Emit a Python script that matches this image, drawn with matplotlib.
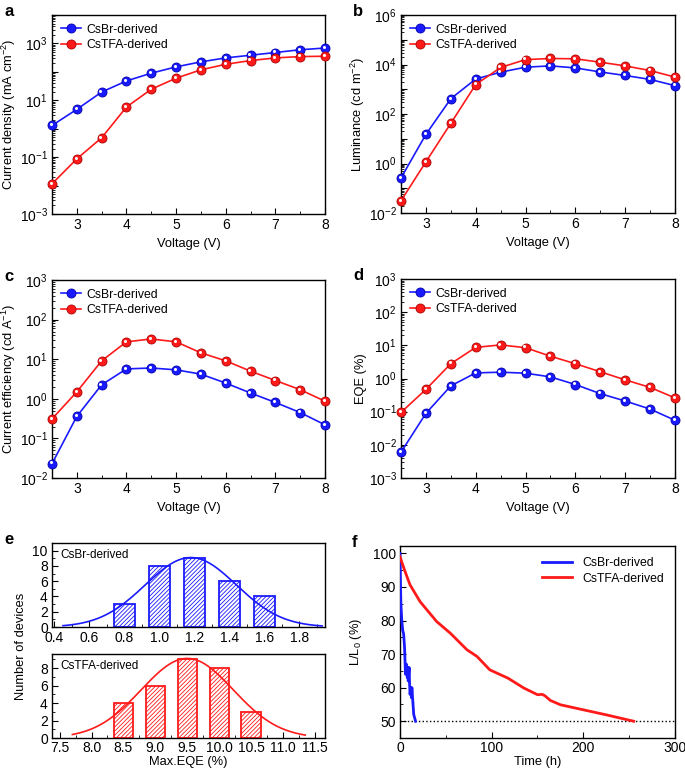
import numpy as np
import matplotlib
matplotlib.use("Agg")
import matplotlib.pyplot as plt
import matplotlib.ticker as mticker
from matplotlib.transforms import offset_copy

plt.rcParams['font.family'] = ['Liberation Sans', 'DejaVu Sans']
plt.rcParams['font.size'] = 10
plt.rcParams['axes.labelsize'] = 9.3
plt.rcParams['mathtext.fontset'] = 'custom'
plt.rcParams['mathtext.rm'] = 'Liberation Sans'
plt.rcParams['mathtext.it'] = 'Liberation Sans:italic'
plt.rcParams['hatch.linewidth'] = 0.6
plt.rcParams['axes.linewidth'] = 1.0

BLUE = '#1a1aff'
RED = '#ff1a1a'

# ---- data ----
voltage = [2.5, 3.0, 3.5, 4.0, 4.5, 5.0, 5.5, 6.0, 6.5, 7.0, 7.5, 8.0]

# a: current density (mA cm-2)
j_csbr = [1.3, 4.8, 19.5, 48, 90, 150, 225, 310, 385, 480, 600, 690]
j_cstfa = [0.0115, 0.087, 0.48, 5.8, 24.5, 60, 118, 185, 250, 310, 345, 355]

# b: luminance (cd m-2)
lum_csbr = [0.26, 15, 415, 2600, 4900, 7800, 8800, 7300, 5000, 3600, 2500, 1400]
lum_cstfa = [0.031, 1.17, 42, 1550, 7600, 15800, 17500, 17000, 12400, 8800, 5700, 3100]

# c: current efficiency (cd A-1)
ce_csbr = [0.023, 0.36, 2.26, 5.7, 6.0, 5.4, 4.2, 2.5, 1.4, 0.81, 0.45, 0.22]
ce_cstfa = [0.31, 1.5, 9.1, 27.5, 32.5, 27.5, 14.5, 9.1, 5.0, 2.9, 1.7, 0.87]

# d: EQE (%)
eqe_csbr = [0.006, 0.089, 0.6, 1.48, 1.55, 1.45, 1.12, 0.66, 0.35, 0.21, 0.12, 0.055]
eqe_cstfa = [0.095, 0.47, 2.8, 8.7, 10.3, 8.5, 4.7, 2.8, 1.6, 0.91, 0.54, 0.26]

# e: histograms of max EQE
bins_csbr = [0.8, 1.0, 1.2, 1.4, 1.6]
count_csbr = [3, 8, 9, 6, 4]
fit_csbr = dict(amp=9.1, mu=1.18, sigma=0.26)
bins_cstfa = [8.5, 9.0, 9.5, 10.0, 10.5]
count_cstfa = [4, 6, 9, 8, 3]
fit_cstfa = dict(amp=9.1, mu=9.5, sigma=0.72)

# f: lifetime L/L0 (%)
t_csbr = [0, 0.5, 1, 2, 3, 4, 5, 5.5, 6, 7, 8, 8.5, 9, 10, 10.5, 11, 12, 12.5, 13, 14, 15, 16, 17]
l_csbr = [100, 92, 85, 80, 77, 76, 72, 68, 64, 67, 63, 66, 62, 66, 61, 58, 60, 57, 60, 56, 52, 51, 50]
t_cstfa = [0, 5, 11, 22, 40, 55, 73, 84, 98, 118, 135, 150, 155, 158, 164, 175, 200, 225, 255]
l_cstfa = [99, 95, 90.6, 85.6, 79.7, 76.2, 71.3, 69.3, 65.3, 62.8, 59.9, 57.9, 58.0, 57.6, 56.2, 54.9, 53.4, 51.9, 50]

fig = plt.figure(figsize=(6.85, 7.74), dpi=100)


def style(ax):
    ax.tick_params(which='both', direction='in', top=False, right=False, pad=3)
    ax.tick_params(which='major', length=4)
    ax.tick_params(which='minor', length=2)


def sphere_plot(ax, x, y, color, dark, label):
    ax.plot(x, y, '-o', color=color, lw=1.2, ms=6.5, mfc=color, mec=dark,
            mew=0.6, label=label, clip_on=False, zorder=3)
    tr = offset_copy(ax.transData, fig=fig, x=-1.2, y=1.2, units='dots')
    ax.plot(x, y, 'o', color='white', ms=2.2, mec='none', transform=tr,
            clip_on=False, zorder=4)


def log_axis(ax, ymin, ymax, every_other, skip_even):
    ax.set_yscale('log')
    ax.set_ylim(ymin, ymax)
    ax.yaxis.set_major_locator(mticker.LogLocator(base=10, numticks=20))
    ax.yaxis.set_minor_locator(mticker.LogLocator(base=10, subs=np.arange(2, 10), numticks=20))
    ax.yaxis.set_minor_formatter(mticker.NullFormatter())

    def fmt(v, pos):
        e = int(round(np.log10(v)))
        if every_other and (e % 2 == 0) == skip_even:
            return ''
        return r'$\mathregular{10^{%d}}$' % e
    ax.yaxis.set_major_formatter(mticker.FuncFormatter(fmt))


def volt_panel(rect, yb, yt, ylabel, ylim, every_other, skip_even, letter):
    ax = fig.add_axes(rect)
    sphere_plot(ax, voltage, yb, BLUE, '#0000aa', 'CsBr-derived')
    sphere_plot(ax, voltage, yt, RED, '#aa0000', 'CsTFA-derived')
    ax.set_xlim(2.5, 8)
    ax.set_xticks([3, 4, 5, 6, 7, 8])
    ax.xaxis.set_minor_locator(mticker.MultipleLocator(0.5))
    log_axis(ax, ylim[0], ylim[1], every_other, skip_even)
    ax.set_xlabel('Voltage (V)')
    ax.set_ylabel(ylabel)
    ax.yaxis.set_label_coords(-0.125, 0.5)
    ax.legend(loc='upper left', frameon=False, fontsize=8.8, handlelength=1.7,
              handletextpad=0.4, borderaxespad=0.3, labelspacing=0.3)
    style(ax)
    fig.text(rect[0] - 0.07, rect[1] + rect[3] - 0.005, letter,
             fontsize=12, fontweight='bold', va='bottom')
    return ax


volt_panel([0.0759, 0.7235, 0.3986, 0.2571], j_csbr, j_cstfa,
           'Current density (mA cm$^{-2}$)', (1e-3, 1e4), True, True, 'a')
volt_panel([0.5854, 0.7248, 0.4, 0.2558], lum_csbr, lum_cstfa,
           'Luminance (cd m$^{-2}$)', (1e-2, 1e6), True, False, 'b')
volt_panel([0.0759, 0.3824, 0.3986, 0.2558], ce_csbr, ce_cstfa,
           'Current efficiency (cd A$^{-1}$)', (1e-2, 1e3), False, False, 'c')
volt_panel([0.5854, 0.3824, 0.4, 0.2571], eqe_csbr, eqe_cstfa,
           'EQE (%)', (1e-3, 1e3), False, False, 'd')


# ---- e ----
def hist_panel(rect, bins, counts, fit, width, color, xlim, ylim, xticks,
               yticks, curve_range, text):
    ax = fig.add_axes(rect)
    ax.bar(bins, counts, width=width, facecolor='white', edgecolor=color,
           hatch='////////', linewidth=1.3, zorder=2)
    xs = np.linspace(curve_range[0], curve_range[1], 300)
    ys = fit['amp'] * np.exp(-(xs - fit['mu']) ** 2 / (2 * fit['sigma'] ** 2))
    ax.plot(xs, ys, color=color, lw=1.2, zorder=3)
    ax.set_xlim(*xlim)
    ax.set_ylim(*ylim)
    ax.set_xticks(xticks)
    ax.set_yticks(yticks)
    ax.xaxis.set_minor_locator(mticker.MultipleLocator((xticks[1] - xticks[0]) / 2))
    ax.yaxis.set_minor_locator(mticker.MultipleLocator(1))
    ax.text(0.03, 0.93, text, transform=ax.transAxes, fontsize=8.5, va='top')
    style(ax)
    return ax


ax_e1 = hist_panel([0.0759, 0.1899, 0.3986, 0.1085], bins_csbr, count_csbr,
                   fit_csbr, 0.12, BLUE, (0.387, 1.947), (0, 11),
                   [0.4, 0.6, 0.8, 1.0, 1.2, 1.4, 1.6, 1.8], [0, 2, 4, 6, 8, 10],
                   (0.45, 1.93), 'CsBr-derived')
ax_e1.xaxis.set_major_formatter(mticker.FormatStrFormatter('%.1f'))
ax_e2 = hist_panel([0.0759, 0.0465, 0.3986, 0.1085], bins_cstfa, count_cstfa,
                   fit_cstfa, 0.3, RED, (7.38, 11.66), (0, 9.6),
                   [7.5, 8.0, 8.5, 9.0, 9.5, 10.0, 10.5, 11.0, 11.5], [0, 2, 4, 6, 8],
                   (7.7, 11.35), 'CsTFA-derived')
ax_e2.xaxis.set_major_formatter(mticker.FormatStrFormatter('%.1f'))
ax_e2.set_xlabel('Max.EQE (%)', labelpad=1)
ax_e2.tick_params(axis='x', pad=2)
fig.text(0.031, 0.165, 'Number of devices', rotation=90, va='center', ha='center',
         fontsize=9.3)
fig.text(0.0759 - 0.07, 0.2984 - 0.005, 'e', fontsize=12, fontweight='bold', va='bottom')

# ---- f ----
ax_f = fig.add_axes([0.5839, 0.0465, 0.4015, 0.2481])
ax_f.plot(t_csbr, l_csbr, color=BLUE, lw=2, label='CsBr-derived', zorder=3)
ax_f.plot(t_cstfa, l_cstfa, color=RED, lw=2, label='CsTFA-derived', zorder=3)
ax_f.axhline(50, color='black', ls=':', lw=1, zorder=2)
ax_f.set_xlim(0, 300)
ax_f.set_ylim(45, 102.2)
ax_f.set_xticks([0, 100, 200, 300])
ax_f.set_yticks([50, 60, 70, 80, 90, 100])
ax_f.xaxis.set_minor_locator(mticker.MultipleLocator(50))
ax_f.yaxis.set_minor_locator(mticker.MultipleLocator(5))
ax_f.set_xlabel('Time (h)', labelpad=1)
ax_f.set_ylabel('L/L$_0$ (%)')
ax_f.yaxis.set_label_coords(-0.13, 0.5)
ax_f.legend(loc='upper right', frameon=False, fontsize=8.8, handlelength=2.5,
            borderaxespad=0.5, labelspacing=0.3)
style(ax_f)
ax_f.tick_params(axis='x', pad=2)
fig.text(0.5839 - 0.07, 0.2946 - 0.005, 'f', fontsize=12, fontweight='bold', va='bottom')

fig.savefig('out.png', dpi=100)
